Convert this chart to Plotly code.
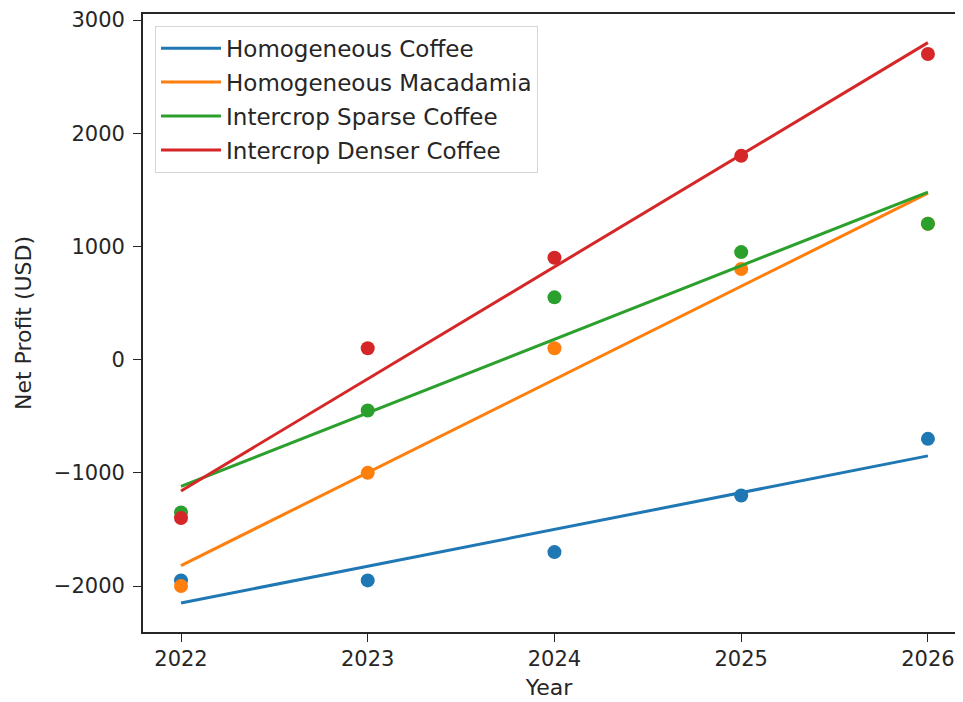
import plotly.graph_objects as go

years = [2022, 2023, 2024, 2025, 2026]
series_names = ["Homogeneous Coffee", "Homogeneous Macadamia",
                "Intercrop Sparse Coffee", "Intercrop Denser Coffee"]
homog_coffee = [-1950, -1950, -1700, -1200, -700]
homog_macadamia = [-2000, -1000, 100, 800, 1200]
sparse_coffee = [-1350, -450, 550, 950, 1200]
denser_coffee = [-1400, 100, 900, 1800, 2700]

# trend line values read at the first and last year
trend_years = [2022, 2026]
trend_homog_coffee = [-2150, -850]
trend_homog_macadamia = [-1820, 1470]
trend_sparse_coffee = [-1120, 1480]
trend_denser_coffee = [-1160, 2800]

colors = ["#1f77b4", "#ff7f0e", "#2ca02c", "#d62728"]
points = [homog_coffee, homog_macadamia, sparse_coffee, denser_coffee]
trends = [trend_homog_coffee, trend_homog_macadamia, trend_sparse_coffee, trend_denser_coffee]

FONT = "DejaVu Sans"
TXT = "#262626"
fig = go.Figure()
for name, vals, c in zip(series_names, points, colors):
    fig.add_trace(go.Scatter(x=years, y=vals, mode="markers", showlegend=False,
                             marker=dict(color=c, size=14, line=dict(width=0)),
                             name=name))
for i, (name, vals, c) in enumerate(zip(series_names, trends, colors)):
    fig.add_trace(go.Scatter(x=trend_years, y=vals, mode="lines", name=name,
                             line=dict(color=c, width=3), legendgroup=f"g{i}"))

fig.update_layout(
    width=947, height=694,
    margin=dict(l=135, r=0, t=6, b=70),
    paper_bgcolor="white", plot_bgcolor="white",
    font=dict(family=FONT, size=21, color=TXT),
    showlegend=True,
    legend=dict(x=0.0148, y=0.981, xanchor="left", yanchor="top",
                bgcolor="rgba(255,255,255,0.8)", bordercolor="#d6d6d6", borderwidth=1,
                font=dict(family=FONT, size=23, color=TXT),
                tracegroupgap=1, itemwidth=60),
    xaxis=dict(range=[2021.7965, 2026.145], tickvals=years, ticktext=[str(y) for y in years],
               showgrid=False, zeroline=False, showline=True, linecolor=TXT, linewidth=1.8,
               mirror=True, ticks="outside", ticklen=8, tickwidth=1.2, tickcolor=TXT,
               ticklabelstandoff=-1,
               title=dict(text="Year", standoff=10, font=dict(size=22))),
    yaxis=dict(range=[-2406, 3053], tickvals=[-2000, -1000, 0, 1000, 2000, 3000],
               ticktext=["\u22122000", "\u22121000", "0", "1000", "2000", "3000"],
               showgrid=False, zeroline=False, showline=True, linecolor=TXT, linewidth=1.8,
               ticks="outside", ticklen=8, tickwidth=1.2, tickcolor=TXT,
               ticklabelstandoff=4,
               title=dict(text="Net Profit (USD)", standoff=16, font=dict(size=22))),
)

fig.write_html("out.html")
